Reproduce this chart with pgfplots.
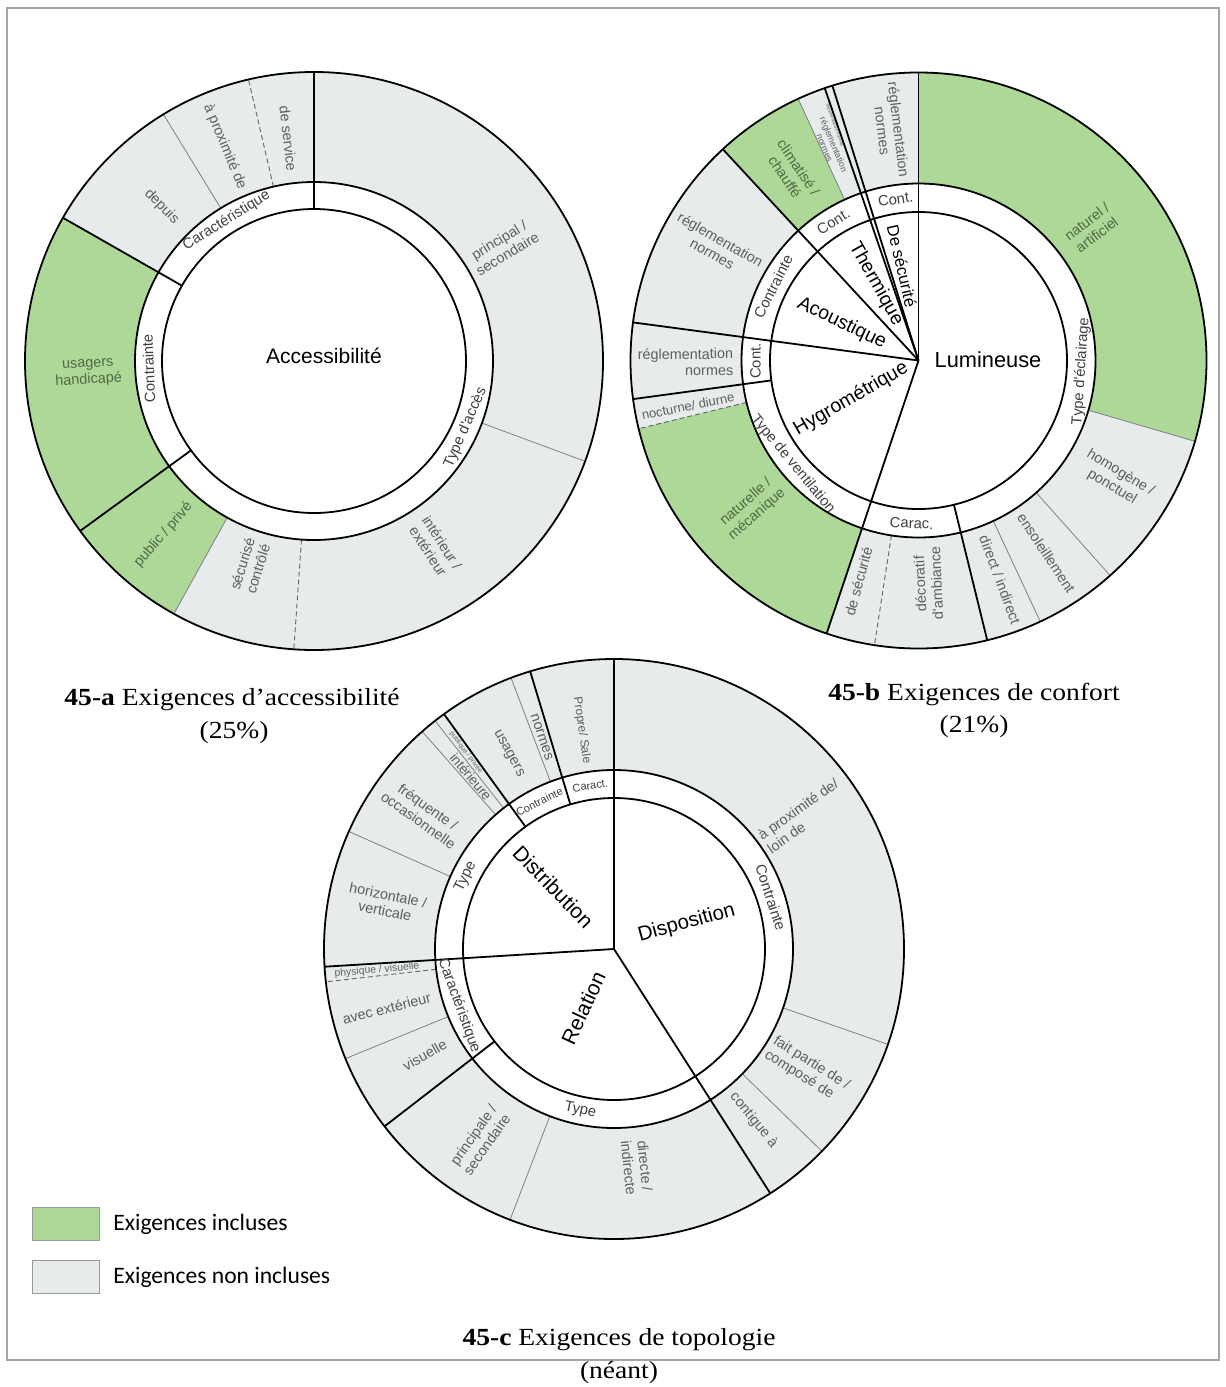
\documentclass[border=0pt]{standalone}
\usepackage{pgfplots}
\pgfplotsset{compat=1.18}
\usepackage{fontspec}
\setmainfont{Liberation Serif}
\newfontfamily\labfont{Liberation Sans}
\newfontfamily\legfont{Carlito}
\newfontfamily\capfont{Liberation Serif}[FakeStretch=1.12]
\definecolor{incl}{RGB}{174,216,152}
\definecolor{nincl}{RGB}{231,235,236}
\definecolor{tg}{RGB}{95,95,95}
\definecolor{tgreen}{RGB}{78,106,68}
\definecolor{framec}{RGB}{165,165,165}
\tikzset{
 thk/.style={black, line width=0.9pt},
 thn/.style={black!50, line width=0.4pt},
 dsh/.style={black!60, line width=0.45pt, dash pattern=on 2.5pt off 1.5pt},
 ol/.style={font=\labfont\fontsize{7.2}{8.2}\selectfont, text=tg, align=center, inner sep=0pt},
 og/.style={font=\labfont\fontsize{7.2}{8.2}\selectfont, text=tgreen, align=center, inner sep=0pt},
 ml/.style={font=\labfont\fontsize{7.4}{8}\selectfont, text=black!75, inner sep=0pt},
 cl/.style={font=\labfont\fontsize{10.5}{12}\selectfont, text=black, inner sep=0pt},
}
% sector: cx, cy, a1, a2, r1, r2, fill
\newcommand{\sect}[7]{\fill[#7] (axis cs:#1,#2) ++(#3:{#5*0.5pt}) arc[start angle=#3, end angle=#4, radius={#5*0.5pt}] -- ++(#4:{(#6-#5)*0.5pt}) arc[start angle=#4, end angle=#3, radius={#6*0.5pt}] -- cycle;}
% radial line: cx, cy, angle, rin, rout, style
\newcommand{\rad}[6]{\draw[#6] (axis cs:#1,#2) ++(#3:{#4*0.5pt}) -- ++(#3:{(#5-#4)*0.5pt});}
% circle: cx, cy, r, style
\newcommand{\ring}[4]{\draw[#4] (axis cs:#1,#2) circle[radius={#3*0.5pt}];}
% label: cx, cy, angle, r, options, text
\newcommand{\lbl}[6]{\path (axis cs:#1,#2) ++(#3:{#4*0.5pt}) node[#5]{#6};}
\begin{document}
\begin{tikzpicture}
\useasboundingbox (0,0) rectangle (613pt,693.5pt);
\begin{axis}[scale only axis, width=613pt, height=693.5pt,
  xmin=0, xmax=1226, ymin=0, ymax=1387, y dir=reverse,
  hide axis, clip=false]
% frame
\draw[framec, line width=0.75pt] (axis cs:7,8) rectangle (axis cs:1219,1360);

% ================= Chart a =================
\fill[nincl] (axis cs:314,361) circle[radius={289*0.5pt}];
\fill[white] (axis cs:314,361) circle[radius={179*0.5pt}];
\sect{314}{361}{150.3}{241}{179}{289}{incl}
\rad{314}{361}{-20.3}{179}{289}{thn}
\rad{314}{361}{-119}{179}{289}{thn}
\rad{314}{361}{121.4}{179}{289}{thn}
\rad{314}{361}{-94}{179}{289}{dsh}
\rad{314}{361}{103.1}{179}{289}{dsh}
\rad{314}{361}{90}{152}{289}{thk}
\rad{314}{361}{150.3}{152}{289}{thk}
\rad{314}{361}{216}{152}{289}{thk}
\ring{314}{361}{289}{thk}
\ring{314}{361}{179}{thk}
\ring{314}{361}{152}{thk}
\lbl{314}{361}{96.6}{224}{ol, rotate=-83.4}{de service}
\lbl{314}{361}{112.6}{232}{ol, rotate=-67.4}{à proximité de}
\lbl{314}{361}{134.6}{217}{ol, rotate=-45.4}{depuis}
\lbl{314}{361}{183.1}{226}{og, rotate=3.1}{usagers\\handicapé}
\lbl{314}{361}{229.1}{230}{og, rotate=49.1}{public / privé}
\lbl{314}{361}{252.7}{215}{ol, rotate=72.7}{sécurisé\\contrôlé}
\lbl{314}{361}{-56.9}{222}{ol, rotate=-56.9}{intérieur /\\extérieur}
\lbl{314}{361}{31.1}{221}{ol, rotate=31.1}{principal /\\secondaire}
\lbl{314}{361}{121.9}{165.5}{ml, rotate=31.9}{Caractéristique}
\lbl{314}{361}{182.5}{165.5}{ml, rotate=92.5}{Contrainte}
\lbl{314}{361}{-23.7}{165.5}{ml, rotate=66.3}{Type d'accès}
\node[cl] at (axis cs:324,356) {Accessibilité};

% ================= Chart b =================
\fill[nincl] (axis cs:918.5,360.5) circle[radius={288*0.5pt}];
\fill[white] (axis cs:918.5,360.5) circle[radius={177*0.5pt}];
\sect{918.5}{360.5}{-16.3}{90}{177}{288}{incl}
\sect{918.5}{360.5}{193.7}{251.4}{177}{288}{incl}
\sect{918.5}{360.5}{114.7}{132.8}{177}{288}{incl}
\rad{918.5}{360.5}{-16.3}{177}{288}{thn}
\rad{918.5}{360.5}{-48.3}{177}{288}{thn}
\rad{918.5}{360.5}{-65}{177}{288}{thn}
\rad{918.5}{360.5}{114.7}{177}{288}{thn}
\rad{918.5}{360.5}{-98.8}{177}{288}{dsh}
\rad{918.5}{360.5}{193.7}{177}{288}{dsh}
\rad{918.5}{360.5}{90}{0}{288}{thk}
\rad{918.5}{360.5}{251.4}{0}{288}{thk}
\rad{918.5}{360.5}{172.4}{0}{288}{thk}
\rad{918.5}{360.5}{132.8}{0}{288}{thk}
\rad{918.5}{360.5}{109.0}{0}{288}{thk}
\rad{918.5}{360.5}{107.4}{0}{288}{thk}
\rad{918.5}{360.5}{-76.2}{148.5}{288}{thk}
\rad{918.5}{360.5}{187.7}{148.5}{288}{thk}
\ring{918.5}{360.5}{288}{thk}
\ring{918.5}{360.5}{177}{thk}
\ring{918.5}{360.5}{148.5}{thk}
\lbl{918.5}{360.5}{37.35}{218}{og, rotate=37.35}{naturel /\\artificiel}
\lbl{918.5}{360.5}{-31.1}{231}{ol, rotate=-31.1}{homogène /\\ponctuel}
\lbl{918.5}{360.5}{-56.4}{231}{ol, rotate=-56.4}{ensoleillement}
\lbl{918.5}{360.5}{-69.6}{234}{ol, rotate=-69.6}{direct / indirect}
\lbl{918.5}{360.5}{-87.5}{223}{ol, rotate=92.5}{décoratif\\d'ambiance}
\lbl{918.5}{360.5}{254.8}{229}{ol, rotate=74.8}{de sécurité}
\lbl{918.5}{360.5}{221.5}{223}{og, rotate=41.5}{naturelle /\\mécanique}
\lbl{918.5}{360.5}{191.2}{235}{ol, rotate=11.2, font=\labfont\fontsize{6.5}{7}\selectfont}{nocturne/ diurne}
\lbl{918.5}{360.5}{180.4}{233}{ol, rotate=0.4, align=right}{réglementation\\normes}
\lbl{918.5}{360.5}{150.6}{232}{ol, rotate=-29.4}{réglementation\\normes}
\lbl{918.5}{360.5}{123.9}{227}{og, rotate=-56.1}{climatisé /\\chauffé}
\lbl{918.5}{360.5}{112.6}{232}{ol, rotate=-67.4, font=\labfont\fontsize{4.4}{4.8}\selectfont}{réglementation\\normes}
\lbl{918.5}{360.5}{109.6}{250}{ol, rotate=-70.4, font=\labfont\fontsize{2.2}{2.4}\selectfont}{réglementation normes}
\lbl{918.5}{360.5}{96.9}{232}{ol, rotate=-83.1}{réglementation\\normes}
\lbl{918.5}{360.5}{98.1}{163}{ml, rotate=8.1}{Cont.}
\lbl{918.5}{360.5}{121.5}{163}{ml, rotate=31.5}{Cont.}
\lbl{918.5}{360.5}{153}{163}{ml, rotate=63}{Contrainte}
\lbl{918.5}{360.5}{180.2}{163}{ml, rotate=90.2}{Cont.}
\lbl{918.5}{360.5}{219.5}{163}{ml, rotate=-50.5}{Type de ventilation}
\lbl{918.5}{360.5}{-92.4}{163}{ml, rotate=-2.4}{Carac.}
\lbl{918.5}{360.5}{-3.8}{163}{ml, rotate=86.2}{Type d'éclairage}
\node[cl, font=\labfont\fontsize{10.9}{12}\selectfont] at (axis cs:988,359.5) {Lumineuse};
\node[cl, rotate=30, font=\labfont\fontsize{9.8}{12}\selectfont] at (axis cs:851,399) {Hygrométrique};
\node[cl, rotate=-25.7, font=\labfont\fontsize{9.7}{12}\selectfont] at (axis cs:841.7,323.3) {Acoustique};
\node[cl, rotate=-60.6, font=\labfont\fontsize{9.6}{12}\selectfont] at (axis cs:876,284) {Thermique};
\node[cl, rotate=-77, font=\labfont\fontsize{8.3}{10}\selectfont] at (axis cs:902,266) {De sécurité};

% ================= Chart c =================
\fill[nincl] (axis cs:614,949) circle[radius={290*0.5pt}];
\fill[white] (axis cs:614,949) circle[radius={179*0.5pt}];
\rad{614}{949}{-19.2}{179}{290}{thn}
\rad{614}{949}{-44.2}{179}{290}{thn}
\rad{614}{949}{156.1}{179}{290}{thn}
\rad{614}{949}{131.4}{179}{290}{thn}
\rad{614}{949}{128.1}{179}{290}{thn}
\rad{614}{949}{110.8}{179}{290}{thn}
\rad{614}{949}{202.2}{179}{290}{thn}
\rad{614}{949}{249}{179}{290}{thn}
\rad{614}{949}{186.5}{179}{290}{dsh}
\rad{614}{949}{90}{0}{290}{thk}
\rad{614}{949}{-57.4}{0}{290}{thk}
\rad{614}{949}{183.5}{0}{290}{thk}
\rad{614}{949}{125.9}{151}{290}{thk}
\rad{614}{949}{106.8}{151}{290}{thk}
\rad{614}{949}{217.7}{151}{290}{thk}
\ring{614}{949}{290}{thk}
\ring{614}{949}{179}{thk}
\ring{614}{949}{151}{thk}
\lbl{614}{949}{98.4}{221}{ol, rotate=-81.6, font=\labfont\fontsize{6}{7}\selectfont}{Propre/ Sale}
\lbl{614}{949}{108.8}{224}{ol, rotate=-71.2}{normes}
\lbl{614}{949}{118.4}{222}{ol, rotate=-61.6}{usagers}
\lbl{614}{949}{129.7}{224}{ol, rotate=-50.3, font=\labfont\fontsize{6.8}{7}\selectfont}{intérieure}
\lbl{614}{949}{127}{246}{ol, rotate=-53, font=\labfont\fontsize{3.4}{4}\selectfont}{publique / privée}
\lbl{614}{949}{144.6}{234}{ol, rotate=-35.4}{fréquente /\\occasionnelle}
\lbl{614}{949}{168.6}{232}{ol, rotate=-11.4}{horizontale /\\verticale}
\lbl{614}{949}{185.1}{238}{ol, rotate=5.1, font=\labfont\fontsize{5.2}{6}\selectfont}{physique / visuelle}
\lbl{614}{949}{194.6}{235}{ol, rotate=14.6}{avec extérieur}
\lbl{614}{949}{209.3}{217}{ol, rotate=29.3}{visuelle}
\lbl{614}{949}{234.9}{233}{ol, rotate=54.9}{principale /\\secondaire}
\lbl{614}{949}{-84}{219}{ol, rotate=-84}{directe /\\indirecte}
\lbl{614}{949}{-50.8}{221}{ol, rotate=-50.8}{contigue à}
\lbl{614}{949}{-32.1}{228}{ol, rotate=-32.1, align=left}{fait partie de /\\composé de}
\lbl{614}{949}{35.2}{231}{ol, rotate=35.2, align=left}{à proximité de/\\loin de}
\lbl{614}{949}{98.3}{165}{ml, rotate=8.3, font=\labfont\fontsize{5.5}{6}\selectfont}{Caract.}
\lbl{614}{949}{116.9}{165}{ml, rotate=26.9, font=\labfont\fontsize{5.5}{6}\selectfont}{Contrainte}
\lbl{614}{949}{154}{165}{ml, rotate=64}{Type}
\lbl{614}{949}{18.2}{165}{ml, rotate=-71.8}{Contrainte}
\lbl{614}{949}{200}{165}{ml, rotate=-70}{Caractéristique}
\lbl{614}{949}{258.2}{165}{ml, rotate=-11.8}{Type}
\node[cl, rotate=-46] at (axis cs:553.3,886.7) {Distribution};
\node[cl, rotate=15.4, font=\labfont\fontsize{10.2}{12}\selectfont] at (axis cs:686.7,923.3) {Disposition};
\node[cl, rotate=65] at (axis cs:583.3,1008) {Relation};

% ================= captions =================
\node[font=\capfont\fontsize{12.3}{14}\selectfont, inner sep=0pt] at (axis cs:232,700) {\textbf{45-a} Exigences d’accessibilité};
\node[font=\capfont\fontsize{12.3}{14}\selectfont, inner sep=0pt] at (axis cs:234,733) {(25\%)};
\node[font=\capfont\fontsize{12.3}{14}\selectfont, inner sep=0pt] at (axis cs:974,694) {\textbf{45-b} Exigences de confort};
\node[font=\capfont\fontsize{12.3}{14}\selectfont, inner sep=0pt] at (axis cs:974,727) {(21\%)};
\node[font=\capfont\fontsize{12.3}{14}\selectfont, inner sep=0pt] at (axis cs:619,1340) {\textbf{45-c} Exigences de topologie};
\node[font=\capfont\fontsize{12.3}{14}\selectfont, inner sep=0pt] at (axis cs:619,1373) {(néant)};

% ================= legend =================
\draw[black!40, fill=incl, line width=0.5pt] (axis cs:32,1207) rectangle (axis cs:99,1240);
\draw[black!40, fill=nincl, line width=0.5pt] (axis cs:32,1260) rectangle (axis cs:99,1293);
\node[anchor=west, inner sep=0pt, font=\legfont\fontsize{11.8}{13}\selectfont] at (axis cs:113,1224) {Exigences incluses};
\node[anchor=west, inner sep=0pt, font=\legfont\fontsize{11.8}{13}\selectfont] at (axis cs:113,1277) {Exigences non incluses};
\end{axis}
\end{tikzpicture}
\end{document}
